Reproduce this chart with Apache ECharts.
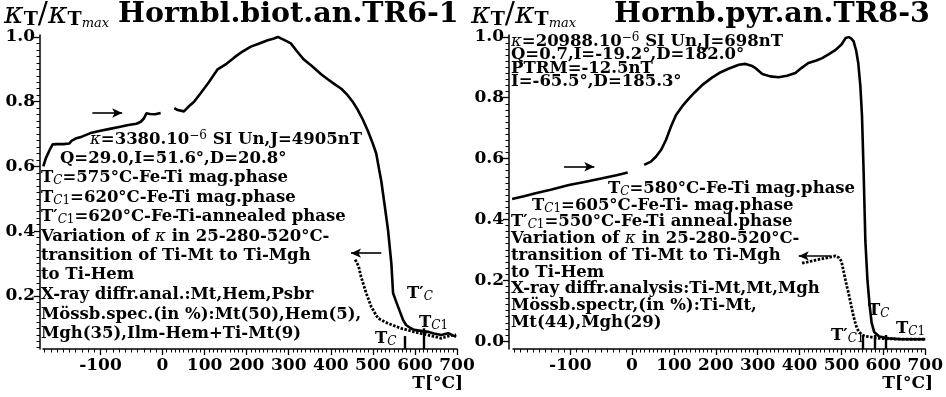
<!DOCTYPE html>
<html><head><meta charset="utf-8">
<script src="https://cdn.jsdelivr.net/npm/echarts@6/dist/echarts.min.js"></script>
<style>html,body{margin:0;padding:0;background:#fff}#c{width:946px;height:397px}</style>
</head><body><div id="c"></div>
<script>
// ---------- DATA (T in °C, k = kappa_T / kappa_Tmax) ----------
// Left panel: Hornbl.biot.an.TR6-1
const L_lowT   = [-192,-188,-182,-177,-170,-160,-150,-146,-140,-130,-116,-100,-85,-70,-55,-42,-35,-30,-26,-20,-12,-3];
const L_lowK   = [0.600,0.625,0.650,0.668,0.669,0.669,0.671,0.680,0.686,0.692,0.703,0.710,0.716,0.722,0.728,0.732,0.738,0.748,0.764,0.762,0.761,0.765];
const L_heatT  = [28,36,51,62,75,91,110,131,150,170,190,210,230,250,265,274,290,305,320,336,355,377,392,408,425,440,452,464,476,488,500,508,515,520,528,536,544,548,556,563,572,579,590,598,615,631,645,663,679,690,698];
const L_heatK  = [0.780,0.774,0.770,0.785,0.800,0.827,0.860,0.900,0.915,0.936,0.955,0.970,0.980,0.990,0.995,1.000,0.990,0.980,0.955,0.930,0.910,0.885,0.870,0.855,0.840,0.820,0.800,0.775,0.745,0.710,0.670,0.640,0.590,0.555,0.480,0.404,0.300,0.209,0.180,0.156,0.125,0.110,0.100,0.095,0.092,0.089,0.084,0.079,0.085,0.078,0.074];
const L_coolT  = [458,462,466,472,484,496,512,536,567,598,631,663,680,698];
const L_coolK  = [0.312,0.306,0.292,0.259,0.209,0.167,0.131,0.115,0.100,0.089,0.079,0.069,0.076,0.080];
const L_arrowLow  = {from:-113, to:-65, k:0.765};
const L_arrowHigh = {from:520, to:448, k:0.332};
const L_marksT = [575, 620];
const L_marksTop = [0.076, 0.100];
// Right panel: Hornb.pyr.an.TR8-3
const R_lowT   = [-194,-175,-156,-130,-102,-75,-48,-25,-7];
const R_lowK   = [0.467,0.476,0.486,0.498,0.513,0.524,0.535,0.545,0.554];
const R_heatT  = [29,45,57,70,81,93,105,120,136,150,168,190,208,230,255,271,285,295,311,330,350,370,390,405,421,440,454,470,486,500,510,517,523,529,535,540,545,549,553,557,562,567,572,578,590,613,644,700];
const R_heatK  = [0.579,0.590,0.606,0.630,0.661,0.705,0.743,0.772,0.798,0.818,0.842,0.865,0.881,0.895,0.908,0.911,0.905,0.897,0.878,0.870,0.867,0.872,0.881,0.898,0.914,0.922,0.930,0.943,0.957,0.975,0.996,0.999,0.995,0.985,0.955,0.914,0.840,0.740,0.550,0.330,0.200,0.120,0.060,0.030,0.015,0.009,0.006,0.006];
const R_coolT  = [406,420,438,460,486,494,500,506,512,517,523,529,535,541,550,557,575,589,620,660,700];
const R_coolK  = [0.256,0.260,0.266,0.272,0.280,0.274,0.262,0.223,0.185,0.157,0.118,0.080,0.050,0.031,0.020,0.016,0.012,0.009,0.007,0.006,0.006];
const R_arrowLow  = {from:-110, to:-61, k:0.573};
const R_arrowHigh = {from:474, to:398, k:0.280};
const R_marksT = [550, 580, 605];
const R_marksTop = [0.020, 0.020, 0.020];
// Tick labels
const xTickLabels = [-100,0,100,200,300,400,500,600,700];
const yTickLabels = [0.0,0.2,0.4,0.6,0.8,1.0];

// ---------- SCALE (low-temperature part is stretched) ----------
const NEG = 1.476;
const u = T => T < 0 ? T*NEG : T;
const invU = v => v < 0 ? v/NEG : v;
const XMIN = u(-192.5), XMAX = 700;
const FONT = 'DejaVu Serif';

const minorX = []; for (let t=-190; t<=700; t+=10) minorX.push(u(t));
const majorX = xTickLabels.map(u);

function xAxes(g){
  const base = {type:'value', gridIndex:g, min:XMIN, max:XMAX, position:'bottom', splitLine:{show:false}};
  return [
    Object.assign({}, base, {
      axisLine:{show:true, onZero:false, lineStyle:{color:'#000', width:1.5}},
      axisTick:{show:true, customValues:majorX, length:6, lineStyle:{color:'#000', width:1.3}},
      axisLabel:{show:true, customValues:majorX, formatter:v=>String(Math.round(invU(v))), color:'#000',
                 fontFamily:FONT, fontWeight:'bold', fontSize:17, margin:8}
    }),
    Object.assign({}, base, {
      axisLine:{show:false, onZero:false},
      axisTick:{show:true, customValues:minorX, length:3.5, lineStyle:{color:'#000', width:1}},
      axisLabel:{show:false}
    })
  ];
}
function yAxes(g, min, max, off){
  const maj = yTickLabels.filter(v => v >= min-1e-9 && v <= max+1e-9);
  const mnr = []; for (let i=0;i<=50;i++){ const v=i*0.02; if (v>=min-1e-9 && v<=max+1e-9) mnr.push(+v.toFixed(2)); }
  const base = {type:'value', gridIndex:g, min:min, max:max, position:'left', offset:off, splitLine:{show:false}};
  return [
    Object.assign({}, base, {
      axisLine:{show:true, onZero:false, lineStyle:{color:'#000', width:1.5}},
      axisTick:{show:true, customValues:maj, length:6, lineStyle:{color:'#000', width:1.3}},
      axisLabel:{show:true, customValues:maj, formatter:v=>v.toFixed(1), color:'#000',
                 fontFamily:FONT, fontWeight:'bold', fontSize:17, margin:5}
    }),
    Object.assign({}, base, {
      axisLine:{show:false, onZero:false},
      axisTick:{show:true, customValues:mnr, length:3.5, lineStyle:{color:'#000', width:1}},
      axisLabel:{show:false}
    })
  ];
}
const pts = (Ts, Ks) => Ts.map((t,i)=>[u(t), Ks[i]]);

function panelSeries(xi, yi, lowT, lowK, heatT, heatK, coolT, coolK, aLow, aHigh, mT, mTop, yMin){
  const solid = {color:'#000', width:2.6};
  return [
    {type:'line', xAxisIndex:xi, yAxisIndex:yi, data:pts(lowT,lowK), showSymbol:false, lineStyle:solid, silent:true},
    {type:'line', xAxisIndex:xi, yAxisIndex:yi, data:pts(heatT,heatK), showSymbol:false, lineStyle:solid, silent:true,
     markLine:{silent:true, animation:false, label:{show:false}, symbol:['none','arrow'], symbolSize:[7,10],
       lineStyle:{color:'#000', width:1.6, type:'solid'},
       data:[
         [{coord:[u(aLow.from), aLow.k]}, {coord:[u(aLow.to), aLow.k]}],
         [{coord:[u(aHigh.from), aHigh.k]}, {coord:[u(aHigh.to), aHigh.k]}]
       ]}},
    {type:'line', xAxisIndex:xi, yAxisIndex:yi, data:pts(coolT,coolK), showSymbol:false,
     lineStyle:{color:'#000', width:2.8, type:[2.5,1.5]}, silent:true,
     markLine:{silent:true, animation:false, label:{show:false}, symbol:['none','none'],
       lineStyle:{color:'#000', width:2.4, type:'solid'},
       data: mT.map((t,i)=>[{coord:[u(t), yMin]}, {coord:[u(t), mTop[i]]}])}}
  ];
}

const rich = {
  k:{fontFamily:FONT, fontStyle:'italic', fontWeight:'normal', fontSize:16.5},
  si:{fontFamily:FONT, fontStyle:'italic', fontWeight:'normal', fontSize:12, verticalAlign:'bottom', lineHeight:6},
  s:{fontFamily:FONT, fontWeight:'normal', fontSize:12, verticalAlign:'bottom', lineHeight:6},
  sup:{fontFamily:FONT, fontWeight:'normal', fontSize:12, verticalAlign:'top', lineHeight:6}
};
const richT = {
  k:{fontFamily:FONT, fontStyle:'italic', fontWeight:'normal', fontSize:30},
  b:{fontFamily:FONT, fontWeight:'bold', fontSize:19, verticalAlign:'bottom', lineHeight:12},
  sl:{fontFamily:FONT, fontWeight:'normal', fontSize:30},
  m:{fontFamily:FONT, fontStyle:'italic', fontWeight:'normal', fontSize:13, verticalAlign:'bottom', lineHeight:2}
};

const notes = [
  [90,140,'{k|κ}=3380.10{sup|−6} SI Un,J=4905nT'],
  [60,159,'Q=29.0,I=51.6°,D=20.8°'],
  [41,178,'T{si|C}=575°C-Fe-Ti mag.phase'],
  [41,198,'T{si|C}{s|1}=620°C-Fe-Ti mag.phase'],
  [41,217,'T′{si|C}{s|1}=620°C-Fe-Ti-annealed phase'],
  [41,237,'Variation of {k|κ} in 25-280-520°C-'],
  [41,256,'transition of Ti-Mt to Ti-Mgh'],
  [41,275,'to Ti-Hem'],
  [41,295,'X-ray diffr.anal.:Mt,Hem,Psbr'],
  [41,315,'Mössb.spec.(in %):Mt(50),Hem(5),'],
  [41,334,'Mgh(35),Ilm-Hem+Ti-Mt(9)'],
  [407,294,'T′{si|C}'],
  [419,323,'T{si|C}{s|1}'],
  [375,339,'T{si|C}'],
  [511,42,'{k|κ}=20988.10{sup|−6} SI Un,J=698nT'],
  [511,55,'Q=0.7,I=-19.2°,D=182.0°'],
  [511,69,'PTRM=-12.5nT'],
  [511,82,'I=-65.5°,D=185.3°'],
  [608,189,'T{si|C}=580°C-Fe-Ti mag.phase'],
  [532,206,'T{si|C}{s|1}=605°C-Fe-Ti- mag.phase'],
  [511,222,'T′{si|C}{s|1}=550°C-Fe-Ti anneal.phase'],
  [511,239,'Variation of {k|κ} in 25-280-520°C-'],
  [511,256,'transition of Ti-Mt to Ti-Mgh'],
  [511,273,'to Ti-Hem'],
  [511,289,'X-ray diffr.analysis:Ti-Mt,Mt,Mgh'],
  [511,306,'Mössb.spectr,(in %):Ti-Mt,'],
  [511,323,'Mt(44),Mgh(29)'],
  [868,311,'T{si|C}'],
  [896,329,'T{si|C}{s|1}'],
  [831,336,'T′{si|C}{s|1}']
];
const graphics = notes.map(n => ({type:'text', left:n[0], top:n[1]-10, silent:true,
  style:{text:n[2], fill:'#000', font:'bold 16.5px "DejaVu Serif"', rich:rich, lineHeight:19}}));
[[4,'Hornbl.biot.an.TR6-1',118],[471,'Hornb.pyr.an.TR8-3',614]].forEach(p=>{
  graphics.push({type:'text', left:p[0], top:0, silent:true,
    style:{text:'{k|κ}{b|T}{sl|/}{k|κ}{b|T}{m|max}', rich:richT, fill:'#000', font:'30px "DejaVu Serif"', lineHeight:30}});
  graphics.push({type:'text', left:p[2], top:0, silent:true,
    style:{text:p[1], fill:'#000', font:'bold 28.5px "DejaVu Serif"'}});
});
[[463],[933]].forEach(p=>{
  graphics.push({type:'text', x:p[0], y:384, silent:true,
    style:{text:'T[°C]', fill:'#000', font:'bold 17px "DejaVu Serif"', align:'right', verticalAlign:'middle'}});
});

const LYMIN = 0.036, RYMIN = -0.026;
const option = {
  animation:false,
  backgroundColor:'#fff',
  grid:[{left:43, top:35, width:414, height:314}, {left:513, top:35, width:414, height:314}],
  xAxis:[...xAxes(0), ...xAxes(1)],
  yAxis:[...yAxes(0, LYMIN, 1.006, 3), ...yAxes(1, RYMIN, 1.006, 4)],
  series:[
    ...panelSeries(0, 0, L_lowT, L_lowK, L_heatT, L_heatK, L_coolT, L_coolK, L_arrowLow, L_arrowHigh, L_marksT, L_marksTop, LYMIN),
    ...panelSeries(2, 2, R_lowT, R_lowK, R_heatT, R_heatK, R_coolT, R_coolK, R_arrowLow, R_arrowHigh, R_marksT, R_marksTop, RYMIN)
  ],
  graphic:graphics
};
const chart = echarts.init(document.getElementById('c'), null, {renderer:'canvas'});
chart.setOption(option);
</script></body></html>
